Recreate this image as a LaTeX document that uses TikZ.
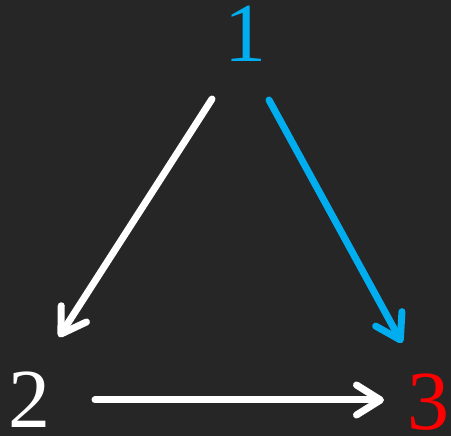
\documentclass[tikz,border=0pt]{standalone}
\usepackage{fontspec}
\setmainfont{Liberation Serif}
\usetikzlibrary{arrows.meta}
\definecolor{bgc}{HTML}{262626}
\definecolor{bluec}{HTML}{00ADEE}
\definecolor{redc}{HTML}{FF0000}
\tikzset{
  digit/.style={anchor=base, inner sep=0pt, font=\fontsize{84}{84}\selectfont},
  conn/.style={line width=7pt, line cap=round, -{Straight Barb[length=24pt,width=30pt,line cap=round,line join=round]}}
}
\begin{document}
\begin{tikzpicture}[x=1pt,y=-1pt]
\fill[bgc] (0,0) rectangle (451,436);
\useasboundingbox (0,0) rectangle (451,436);
\node[digit, text=bluec] (n1) at (245,62) {1};
\node[digit, text=white] (n2) at (29.5,428) {2};
\node[digit, text=redc] (n3) at (428,429) {3};
\coordinate (a1s) at (212,99);
\coordinate (a1e) at (59,337);
\coordinate (a2s) at (269,100);
\coordinate (a2e) at (402,343);
\coordinate (a3s) at (95,400);
\coordinate (a3e) at (384,400);
\draw[conn, white] (a1s) -- (a1e);
\draw[conn, bluec] (a2s) -- (a2e);
\draw[conn, white] (a3s) -- (a3e);
\end{tikzpicture}
\end{document}
